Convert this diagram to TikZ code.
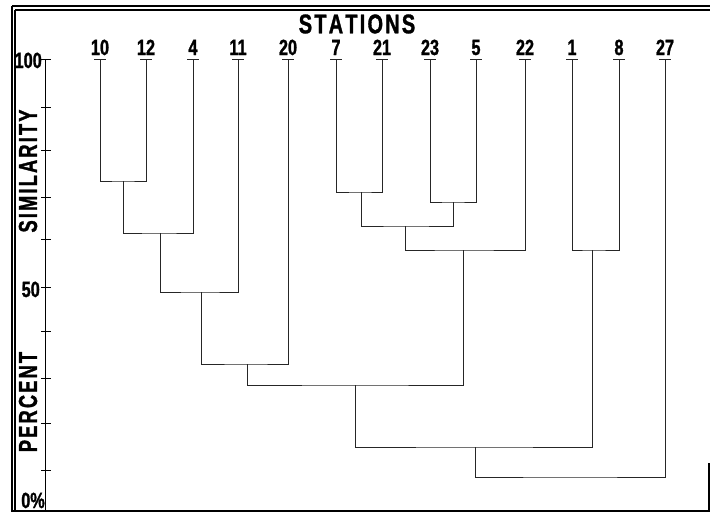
\documentclass[tikz,border=0pt]{standalone}
\usepackage{fontspec}
\newfontfamily\cf{Liberation Sans Bold}[FakeStretch=0.74, FakeBold=1.2]
\newfontfamily\cv{Liberation Sans Bold}[FakeStretch=0.70, FakeBold=1.2]
\newcommand\lk{\kern2.2pt}
\tikzset{
  num/.style={inner sep=0pt, font=\cf\fontsize{22}{22}\selectfont},
  ttl/.style={inner sep=0pt, font=\cf\fontsize{27}{27}\selectfont},
  vttl/.style={inner sep=0pt, rotate=90, font=\cv\fontsize{26}{26}\selectfont},
  tree/.style={line width=0.9pt, black!85},
  frame/.style={line width=1.1pt, black},
  axisln/.style={line width=1pt, black},
}
\begin{document}
\begin{tikzpicture}[x=1pt,y=-1pt]
\useasboundingbox (0,0) rectangle (710,515);
% frame
\draw[frame] (12,6) -- (710,6);
\draw[frame] (15,10) -- (710,10);
\draw[frame] (12,6) -- (12,512);
\draw[frame] (15,10) -- (15,511);
\draw[frame] (12,511) -- (709,511) -- (709,463);
% axis
\draw[axisln] (45,59) -- (45,511);
\foreach \y in {59,107,150,197,239,287,331,378,423,470}
  \draw[axisln] (41,\y) -- (51,\y);
\node[num, anchor=base east] (a100) at (42,68) {100};
\node[num, anchor=base east] (a50) at (40,297) {50};
\node[num, anchor=base east] (a0) at (45,508) {0\%};
% titles
\node[ttl] (stations) at (357,24) {S\lk T\lk A\lk T\lk I\lk O\lk N\lk S};
\node[vttl] (simil) at (28,171) {S\lk I\lk M\lk I\lk L\lk A\lk R\lk I\lk T\lk Y};
\node[vttl] (perc) at (28,402) {P\lk E\lk R\lk C\lk E\lk N\lk T};
% leaves
\foreach \n/\x in {10/100,12/146,4/193,11/238,20/288,7/336,21/382,23/430,5/476,22/525,1/572,8/619,27/665} {
  \node[num, anchor=base] (n\n) at (\x,55) {\n};
  \coordinate (t\n) at (\x,59);
  \draw[tree] ([xshift=-6pt]t\n) -- ([xshift=6pt]t\n);
}
% merge points
\coordinate (m1) at (123,181);
\coordinate (m2) at (160,233);
\coordinate (m3) at (201,292);
\coordinate (m4) at (247,364);
\coordinate (r1) at (361,192);
\coordinate (r2) at (453,202);
\coordinate (r3) at (405,226);
\coordinate (r4) at (463,250);
\coordinate (b1) at (592,250);
\coordinate (g1) at (355,385);
\coordinate (g2) at (475,447);
\coordinate (g3) at (570,477);
% dendrogram
\draw[tree] (t10) |- (m1) -| (t12);
\draw[tree] (m1) |- (m2) -| (t4);
\draw[tree] (m2) |- (m3) -| (t11);
\draw[tree] (m3) |- (m4) -| (t20);
\draw[tree] (t7) |- (r1) -| (t21);
\draw[tree] (t23) |- (r2) -| (t5);
\draw[tree] (r1) |- (r3) -| (r2);
\draw[tree] (r3) |- (r4) -| (t22);
\draw[tree] (t1) |- (b1) -| (t8);
\draw[tree] (m4) |- (g1) -| (r4);
\draw[tree] (g1) |- (g2) -| (b1);
\draw[tree] (g2) |- (g3) -| (t27);
\end{tikzpicture}
\end{document}
